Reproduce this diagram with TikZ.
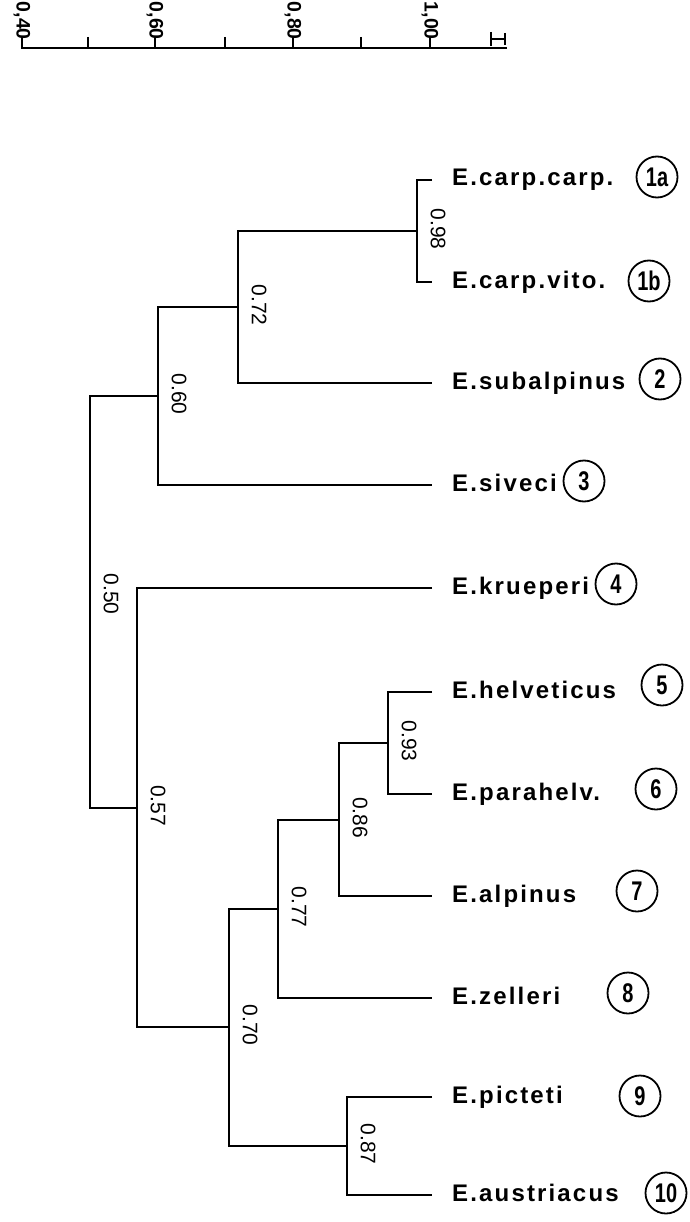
\documentclass[tikz,border=0pt]{standalone}
\usepackage{fontspec}
\usepackage{graphicx}
\usetikzlibrary{calc}
\setsansfont{Liberation Sans}
\newfontfamily\spfont[LetterSpace=9]{Liberation Sans}
\newfontfamily\numfont{Liberation Sans}
\begin{document}
\begin{tikzpicture}[x=1pt,y=-1pt,
  br/.style={line width=2pt,line join=miter},
  axisline/.style={line width=2.4pt},
  sim/.style={font=\sffamily\fontsize{21}{21}\selectfont,rotate=-90,inner sep=0pt},
  ticklab/.style={font=\sffamily\bfseries\fontsize{19.5}{19.5}\selectfont,rotate=-90,inner sep=0pt,anchor=east},
  species/.style={font=\spfont\bfseries\fontsize{24}{24}\selectfont,anchor=base west,inner sep=0pt},
  num/.style={circle,draw,line width=1.8pt,minimum size=41pt,inner sep=0pt,
    font=\numfont\bfseries\fontsize{27}{27}\selectfont}]
\useasboundingbox[fill=white] (0,0) rectangle (689,1222);

% similarity scale
\draw[axisline] (22,37) -- (22,48) -- (507,48);
\foreach \x in {88,155,225,293,361,430} \draw[axisline] (\x,37) -- (\x,48);
\node[ticklab] at (22,40) {0,40};
\node[ticklab] at (155,40) {0,60};
\node[ticklab] at (293,40) {0,80};
\node[ticklab] at (430,40) {1,00};
\draw[line width=2.2pt] (491,32) -- (491,46) (491,39) -- (505,39) (505,33) -- (505,45);

% leaf ends
\coordinate (l1a) at (432,180);
\coordinate (l1b) at (432,282);
\coordinate (l2)  at (432,383);
\coordinate (l3)  at (432,485);
\coordinate (l4)  at (432,588);
\coordinate (l5)  at (432,692);
\coordinate (l6)  at (432,794);
\coordinate (l7)  at (432,896);
\coordinate (l8)  at (432,998);
\coordinate (l9)  at (432,1097);
\coordinate (l10) at (432,1195);

% clusters
\coordinate (n98) at (417,231);
\coordinate (n72) at (238,307);
\coordinate (n60) at (158,396);
\coordinate (n93) at (388,743);
\coordinate (n86) at (339,819.5);
\coordinate (n77) at (278,909);
\coordinate (n87) at (347,1146);
\coordinate (n70) at (229,1027);
\coordinate (n57) at (137,807.5);
\coordinate (n50) at (90,602);

\draw[br] (l1a) -| (n98) |- (l1b);
\draw[br] (n98) -| (n72) |- (l2);
\draw[br] (n72) -| (n60) |- (l3);
\draw[br] (l5) -| (n93) |- (l6);
\draw[br] (n93) -| (n86) |- (l7);
\draw[br] (n86) -| (n77) |- (l8);
\draw[br] (l9) -| (n87) |- (l10);
\draw[br] (n77) -| (n70) |- (n87);
\draw[br] (l4) -| (n57) |- (n70);
\draw[br] (n60) -| (n50) |- (n57);

% similarity values
\node[sim] at ([xshift=21pt,yshift=2pt]n98) {0.98};
\node[sim] at ([xshift=21pt,yshift=2pt]n72) {0.72};
\node[sim] at ([xshift=21pt,yshift=2pt]n60) {0.60};
\node[sim] at ([xshift=21pt,yshift=8pt]n50) {0.50};
\node[sim] at ([xshift=21pt,yshift=2pt]n57) {0.57};
\node[sim] at ([xshift=21pt,yshift=2pt]n93) {0.93};
\node[sim] at ([xshift=21pt,yshift=2pt]n86) {0.86};
\node[sim] at ([xshift=21pt,yshift=2pt]n77) {0.77};
\node[sim] at ([xshift=21pt,yshift=2pt]n70) {0.70};
\node[sim] at ([xshift=21pt,yshift=2pt]n87) {0.87};

% taxa with their numbers
\foreach \id/\name/\cx/\cy in {1a/E.carp.carp./657/177, 1b/E.carp.vito./649/281,
  2/E.subalpinus/660/379, 3/E.siveci/584/481, 4/E.krueperi/616/584,
  5/E.helveticus/662/685, 6/E.parahelv./656/789, 7/E.alpinus/637/891,
  8/E.zelleri/628/993, 9/E.picteti/640/1096, 10/E.austriacus/666/1193}{
  \node[species] (t\id) at ($(l\id)+(20,6)$) {\name};
  \node[num] (c\id) at (\cx,\cy) {\scalebox{0.74}[1]{\id}};
}
\end{tikzpicture}
\end{document}
